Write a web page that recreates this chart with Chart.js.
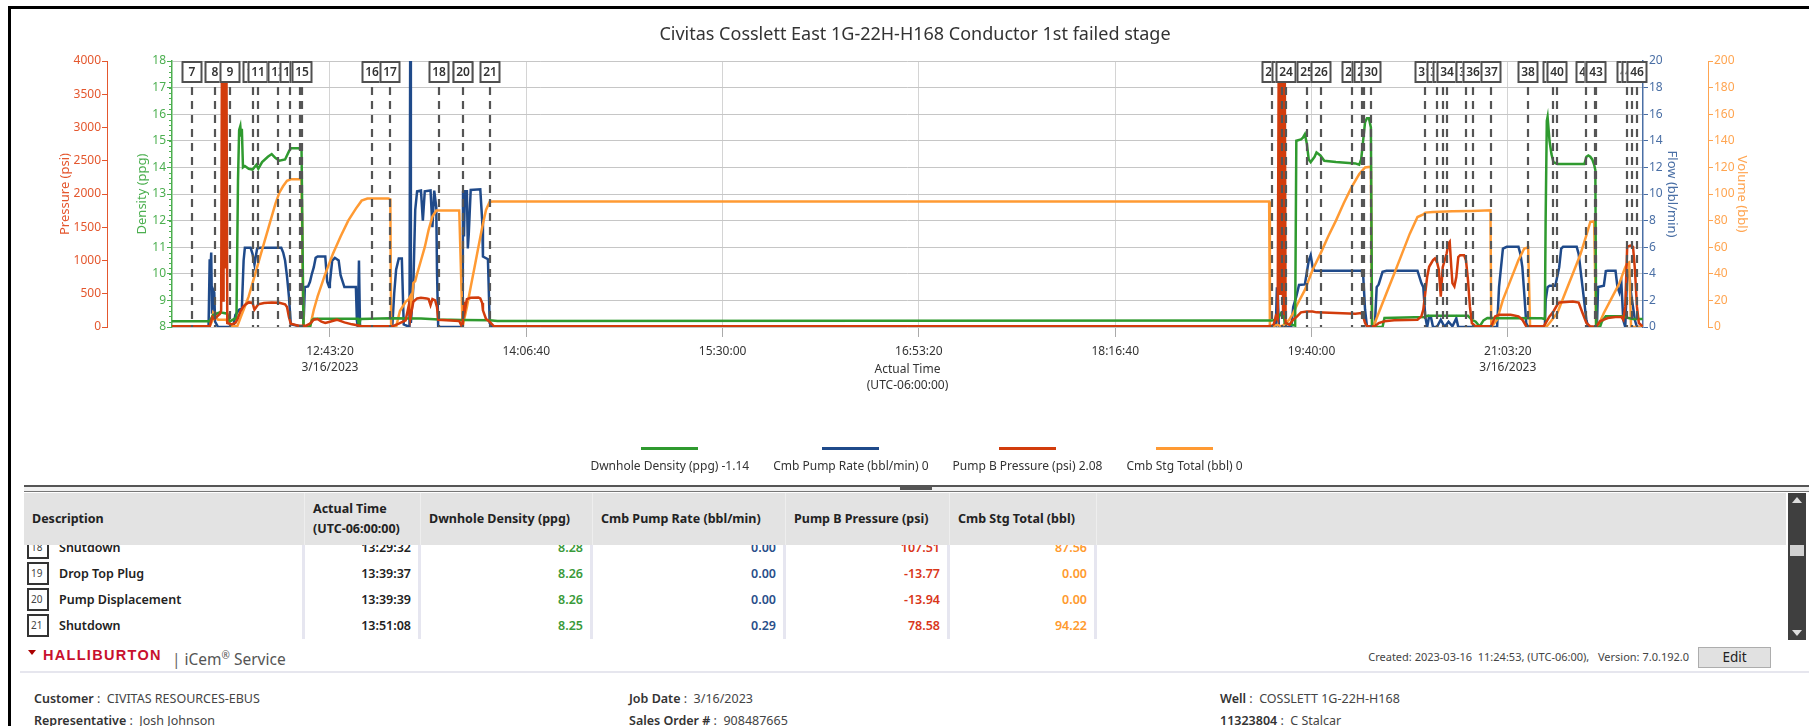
<!DOCTYPE html>
<html>
<head>
<meta charset="utf-8">
<script src="https://cdn.jsdelivr.net/npm/chart.js@4.4.1/dist/chart.umd.min.js"></script>
<style>
html,body{margin:0;padding:0;background:#fff;}
body{width:1809px;height:726px;overflow:hidden;position:relative;font-family:'Noto Sans','Open Sans',sans-serif;color:#222;}
.abs{position:absolute;}
#frameTop{left:8px;top:6px;width:1801px;height:3px;background:#000;}
#frameLeft{left:8px;top:6px;width:3px;height:720px;background:#000;}
#title{left:0;width:1830px;top:20px;text-align:center;font-size:18px;color:#333;line-height:26px;}
#chartWrap{left:0;top:0;width:1809px;height:400px;}
#legend{left:0;top:441px;width:1833px;display:flex;justify-content:center;gap:24px;}
.lg{display:flex;flex-direction:column;align-items:center;}
.lg .ln{width:57px;height:3px;margin-top:6px;}
.lg .tx{font-size:12px;color:#333;margin-top:8px;line-height:16px;white-space:nowrap;}
#splitter{left:24px;top:485px;width:1785px;height:7px;border-top:2px solid #555;border-bottom:1px solid #777;background:#f0f0f0;box-sizing:border-box;}
#grip{left:900px;top:485px;width:32px;height:5px;background:#555;}
#thead{left:24px;top:493px;width:1762px;height:52px;background:#e3e3e3;z-index:2;}
.hc{position:absolute;top:0;height:52px;font-weight:700;font-size:12.5px;color:#222;display:flex;align-items:center;box-sizing:border-box;padding-left:8px;line-height:20px;border-right:1px solid #eeeeee;}
#tbody{left:24px;top:545px;width:1762px;height:95px;overflow:hidden;}
#tinner{position:absolute;left:0;top:-10.5px;width:100%;}
.row{position:relative;height:26px;}
.c{position:absolute;top:0;height:26px;line-height:26px;font-size:12.5px;font-weight:600;text-align:right;padding-right:7px;box-sizing:border-box;border-right:3px solid #e6e6f0;}
.ico{position:absolute;left:3px;top:1.5px;width:22px;height:23px;border:2px solid #333;box-sizing:border-box;font-size:10px;line-height:19px;padding-left:2px;font-weight:400;color:#444;text-align:left;}
.desc{position:absolute;left:35px;top:0;line-height:26px;font-size:12.5px;font-weight:600;color:#222;}
#scroll{left:1788px;top:493px;width:18px;height:147px;background:#3f3f3f;}
#sup{left:1792px;top:497px;width:0;height:0;border-left:5px solid transparent;border-right:5px solid transparent;border-bottom:6px solid #ddd;}
#sdown{left:1792px;top:630px;width:0;height:0;border-left:5px solid transparent;border-right:5px solid transparent;border-top:6px solid #ddd;}
#sthumb{left:1790px;top:545px;width:14px;height:11px;background:#d0d0d0;}
#tri{left:28px;top:650px;width:0;height:0;border-left:4px solid transparent;border-right:4px solid transparent;border-top:5px solid #a00;}
#hal{left:43px;top:645px;line-height:20px;color:#c8102e;font-weight:900;font-size:14.5px;letter-spacing:1.3px;font-family:'Liberation Sans',Arial,sans-serif;white-space:nowrap;}
#brandRest{left:172px;top:644px;line-height:22px;white-space:nowrap;color:#555;font-size:15.5px;}
#created{right:120px;top:649px;font-size:11px;color:#444;line-height:16px;white-space:pre;}
#edit{left:1698px;top:647px;width:73px;height:21px;background:#e1e1e1;border:1px solid #adadad;box-sizing:border-box;text-align:center;font-size:13.5px;line-height:19px;color:#222;}
#footLine{left:20px;top:671px;width:1789px;height:2px;background:#e6e6ee;}
.info{font-size:12.5px;color:#444;line-height:19px;white-space:nowrap;}
.info b{font-weight:600;color:#333;}
</style>
</head>
<body>
<div id="chartWrap" class="abs"><canvas id="c" width="1809" height="400"></canvas></div>
<div id="frameTop" class="abs"></div>
<div id="frameLeft" class="abs"></div>
<div id="title" class="abs"></div>
<div id="legend" class="abs"></div>
<div id="splitter" class="abs"></div>
<div id="grip" class="abs"></div>
<div id="thead" class="abs"></div>
<div id="tbody" class="abs"><div id="tinner"></div></div>
<div id="scroll" class="abs"></div>
<div id="sup" class="abs"></div>
<div id="sdown" class="abs"></div>
<div id="sthumb" class="abs"></div>
<div id="tri" class="abs"></div>
<div id="hal" class="abs">HALLIBURTON</div>
<div id="brandRest" class="abs"><span style="color:#666">|</span> iCem<sup style="font-size:10px">&reg;</sup> Service</div>
<div id="created" class="abs">Created: 2023-03-16  11:24:53, (UTC-06:00),   Version: 7.0.192.0</div>
<div id="edit" class="abs">Edit</div>
<div id="footLine" class="abs"></div>
<div class="abs info" style="left:34px;top:689px;"><b>Customer</b> :&nbsp; CIVITAS RESOURCES-EBUS</div>
<div class="abs info" style="left:629px;top:689px;"><b>Job Date</b> :&nbsp; 3/16/2023</div>
<div class="abs info" style="left:1220px;top:689px;"><b>Well</b> :&nbsp; COSSLETT 1G-22H-H168</div>
<div class="abs info" style="left:34px;top:711px;"><b>Representative</b> :&nbsp; Josh Johnson</div>
<div class="abs info" style="left:629px;top:711px;"><b>Sales Order #</b> :&nbsp; 908487665</div>
<div class="abs info" style="left:1220px;top:711px;"><b>11323804</b> :&nbsp; C Stalcar</div>
<script>
// ---------------- DATA ----------------
const chartTitle = "Civitas Cosslett East 1G-22H-H168 Conductor 1st failed stage";
const axisStart = "11:36:16";
const axisEnd = "22:00:43";
const xTickTimes = ["12:43:20","14:06:40","15:30:00","16:53:20","18:16:40","19:40:00","21:03:20"];
const xTickLabels = [["12:43:20","3/16/2023"],["14:06:40"],["15:30:00"],["16:53:20"],["18:16:40"],["19:40:00"],["21:03:20","3/16/2023"]];
const pressureTicks = [0,500,1000,1500,2000,2500,3000,3500,4000];

const seriesNames = ["Dwnhole Density (ppg)","Cmb Pump Rate (bbl/min)","Pump B Pressure (psi)","Cmb Stg Total (bbl)"];
const legendValues = ["-1.14","0","2.08","0"];

const densityPoints = [
["11:36:11",8.22],["11:52:16",8.22],["11:53:44",8.45],["11:55:02",8.5],["11:56:39",8.55],["11:59:44",8.5],
["12:00:43",8.2],["12:03:38",8.35],["12:04:17",13.5],["12:04:46",15.4],["12:05:16",15.55],["12:05:35",15.2],
["12:05:55",15.45],["12:06:24",14.0],["12:07:12",14.05],["12:08:50",13.95],["12:10:27",13.92],["12:12:05",14.1],
["12:12:54",13.95],["12:14:31",14.2],["12:16:58",14.4],["12:18:35",14.5],["12:20:13",14.35],["12:21:50",14.25],
["12:24:16",14.3],["12:25:54",14.6],["12:26:42",14.72],["12:29:57",14.72],["12:31:15",14.68],["12:32:04",8.02],
["12:34:50",8.0],["12:35:39",8.25],["12:36:28",8.31],["12:55:09",8.31],["12:55:38",8.05],["12:56:17",8.3],
["13:08:57",8.33],["13:21:57",8.32],["13:29:32",8.28],["13:39:37",8.26],["13:51:08",8.25],["13:54:27",8.23],
["19:23:10",8.24],["19:25:38",8.3],["19:27:17",8.55],["19:28:07",8.58],["19:28:36",8.15],["19:33:03",8.05],
["19:33:33",15.0],["19:35:32",15.05],["19:36:21",15.12],["19:37:11",15.25],["19:38:00",14.9],["19:38:49",14.3],
["19:39:39",14.2],["19:41:18",14.4],["19:42:07",14.56],["19:43:46",14.45],["19:45:25",14.25],["19:50:22",14.2],
["19:58:36",14.15],["20:00:15",14.1],["20:01:05",14.3],["20:01:54",15.0],["20:02:44",15.7],["20:03:33",15.85],
["20:04:22",15.85],["20:05:12",15.5],["20:05:42",8.0],["20:10:09",8.0],["20:10:58",8.34],["20:28:17",8.38],
["20:29:06",8.42],["20:46:25",8.42],["20:48:04",8.27],["20:49:43",8.2],["20:51:22",8.02],["20:53:00",8.25],
["20:54:39",8.34],["21:17:44",8.33],["21:19:03",8.3],["21:19:23",12.0],["21:19:53",15.75],["21:20:13",15.9],
["21:21:02",15.0],["21:21:51",14.5],["21:22:41",14.2],["21:24:20",14.13],["21:35:52",14.13],["21:36:42",14.4],
["21:37:31",14.45],["21:38:20",14.4],["21:39:10",14.3],["21:39:59",14.1],["21:40:29",13.9],["21:40:49",8.0],
["21:42:28",8.0],["21:43:17",8.21],["21:44:56",8.4],["21:52:21",8.4],["21:54:00",8.35],["21:56:29",8.3],["22:00:36",8.3]
];

const ratePoints = [
["11:36:11",0],["11:51:47",0],["11:52:16",5.1],["11:52:36",4.2],["11:52:55",5.6],["11:53:15",1.0],["11:53:44",2.8],
["11:54:13",2.6],["11:54:33",0.4],["11:55:50",0],["12:02:20",0],["12:03:09",0.9],["12:04:46",1.3],["12:05:55",1.4],
["12:06:40",5.0],["12:07:12",5.95],["12:09:39",5.95],["12:10:27",5.5],["12:11:16",4.7],["12:12:24",5.9],["12:13:42",5.95],
["12:22:39",5.95],["12:23:28",5.6],["12:24:16",5.0],["12:25:05",3.8],["12:25:54",2.3],["12:26:42",0.2],["12:32:04",0],
["12:32:40",3.0],["12:34:01",3.05],["12:34:50",3.4],["12:35:39",4.0],["12:36:28",4.5],["12:37:15",5.2],["12:38:05",5.3],
["12:41:20",5.3],["12:42:09",3.4],["12:42:58",3.0],["12:43:17",3.3],["12:44:16",5.0],["12:45:24",5.2],["12:47:01",5.0],
["12:47:50",3.9],["12:49:27",3.0],["12:54:20",3.0],["12:54:45",0.5],["12:55:09",0],["12:55:38",5.0],["12:56:05",0],
["13:09:46",0],["13:10:35",2.5],["13:11:24",4.3],["13:12:32",5.15],["13:13:50",5.15],["13:14:38",0.2],["13:17:05",0],
["13:17:24",22],["13:17:40",0.3],["13:18:42",3.0],["13:19:31",8.8],["13:20:19",10.2],["13:21:57",10.26],["13:22:45",8.0],
["13:23:34",10.2],["13:26:01",10.26],["13:26:49",7.5],["13:27:35",10.26],["13:28:27",9.0],["13:28:46",4.2],["13:29:16",0],
["13:39:39",0],["13:39:49",10.2],["13:40:13",6.8],["13:40:38",10.2],["13:41:27",10.2],["13:41:51",5.9],["13:42:15",7.0],
["13:43:04",10.3],["13:47:08",10.35],["13:47:57",8.0],["13:48:16",5.3],["13:50:23",5.1],["13:51:08",0.29],["13:52:01",0],
["19:24:49",0],["19:25:18",2.9],["19:25:38",2.9],["19:26:08",0],["19:31:24",0],["19:32:14",1.5],["19:33:33",2.3],
["19:34:42",3.16],["19:37:11",3.2],["19:38:49",5.0],["19:39:39",5.4],["19:40:28",4.5],["19:41:18",4.23],["20:01:05",4.23],
["20:01:54",4.0],["20:02:44",1.3],["20:03:33",0],["20:06:51",0],["20:07:40",3.0],["20:08:30",3.2],["20:10:09",4.15],
["20:11:48",4.23],["20:24:59",4.23],["20:26:38",3.3],["20:27:27",3.0],["20:28:17",0.8],["20:29:06",0],["20:29:56",0.8],
["20:30:45",0.7],["20:31:35",0],["20:33:14",0],["20:34:52",0.55],["20:36:31",0],["20:38:10",0.4],["20:39:49",0.05],
["20:41:28",0.65],["20:42:18",0],["20:58:47",0],["20:59:36",3.0],["21:01:15",5.9],["21:02:54",6.03],["21:07:51",6.03],
["21:08:40",5.5],["21:09:30",4.5],["21:10:19",2.5],["21:11:08",0.3],["21:11:58",0],["21:19:03",0],["21:19:23",2.0],
["21:20:13",3.0],["21:21:02",3.1],["21:23:30",3.1],["21:25:09",4.5],["21:25:59",5.9],["21:26:48",6.03],["21:32:34",6.03],
["21:33:24",5.5],["21:35:03",3.0],["21:36:42",0.5],["21:37:31",0],["21:41:09",0],["21:41:38",3.0],["21:44:06",3.1],
["21:44:56",4.2],["21:45:46",4.23],["21:49:03",4.23],["21:49:53",3.0],["21:50:42",2.6],["21:51:32",3.3],["21:52:21",0.5],
["21:53:11",0],["21:54:00",3.8],["21:54:50",4.2],["21:55:39",2.5],["21:56:29",1.5],["21:57:18",0.5],["21:58:08",0],["22:00:36",0]
];

const pressurePoints = [
["11:36:11",10],["11:52:16",10],["11:53:25",150],["11:54:13",120],["11:56:39",200],["11:57:08",250],["11:57:30",4500],
["11:57:50",4500],["11:58:00",400],["11:58:10",4500],["11:58:40",4500],["11:58:55",900],["11:59:05",4500],["11:59:20",4500],
["11:59:44",60],["12:01:32",40],["12:03:09",60],["12:03:58",110],["12:05:16",230],["12:06:24",300],["12:07:12",330],
["12:08:50",370],["12:10:27",365],["12:11:16",260],["12:12:05",300],["12:12:54",340],["12:15:20",360],["12:18:35",370],
["12:21:50",365],["12:24:16",340],["12:25:05",300],["12:25:54",150],["12:26:42",50],["12:29:57",20],["12:33:13",20],
["12:34:50",50],["12:36:28",110],["12:38:05",120],["12:39:43",80],["12:41:20",60],["12:43:17",80],["12:46:13",110],
["12:49:27",70],["12:52:42",40],["12:54:20",30],["12:56:46",10],["13:09:46",10],["13:12:32",50],["13:15:27",100],
["13:16:45",320],["13:17:24",120],["13:18:42",380],["13:20:19",430],["13:21:57",440],["13:24:23",430],["13:25:12",420],
["13:26:01",330],["13:26:49",420],["13:27:58",400],["13:28:46",300],["13:29:16",110],["13:29:32",107.51],["13:38:12",90],
["13:39:37",-13.77],["13:39:39",-13.94],["13:39:49",200],["13:40:13",380],["13:40:38",250],["13:41:27",420],["13:43:04",440],
["13:46:19",445],["13:47:08",430],["13:47:57",360],["13:48:16",250],["13:49:34",120],["13:51:08",78.58],["13:52:50",15],
["13:54:27",10],["19:21:31",10],["19:23:10",20],["19:23:59",40],["19:24:49",160],["19:25:38",110],["19:26:08",4500],
["19:26:28",4500],["19:26:45",500],["19:26:57",4500],["19:27:37",4500],["19:27:55",200],["19:28:07",4500],["19:28:36",4500],
["19:29:00",60],["19:30:35",35],["19:32:14",110],["19:33:53",160],["19:35:32",220],["19:38:00",234],["19:40:28",234],
["19:42:07",220],["19:58:36",200],["20:01:05",210],["20:01:54",160],["20:02:44",60],["20:03:33",10],["20:06:51",10],
["20:08:30",60],["20:10:58",85],["20:15:06",100],["20:24:59",110],["20:26:38",160],["20:27:27",260],["20:28:17",510],
["20:29:06",757],["20:29:56",906],["20:31:35",1006],["20:32:24",1030],["20:33:14",980],["20:34:03",860],["20:34:52",458],
["20:35:42",900],["20:37:21",1105],["20:38:10",1255],["20:38:40",1280],["20:39:20",900],["20:39:49",660],["20:40:39",610],
["20:41:28",750],["20:42:18",1050],["20:43:07",1080],["20:44:46",1080],["20:45:35",1000],["20:46:25",710],["20:47:14",310],
["20:48:04",60],["20:49:43",10],["20:56:18",10],["20:57:57",160],["20:59:36",184],["21:04:33",184],["21:07:51",160],
["21:09:30",110],["21:11:08",10],["21:18:34",10],["21:19:23",60],["21:21:02",160],["21:22:41",234],["21:24:20",334],
["21:25:09",368],["21:30:55",383],["21:33:24",368],["21:35:03",210],["21:36:42",60],["21:38:20",10],["21:40:49",0],
["21:42:28",85],["21:44:06",110],["21:45:46",135],["21:49:03",150],["21:51:32",150],["21:52:21",110],["21:53:11",310],
["21:54:00",1205],["21:55:20",1225],["21:56:29",1205],["21:57:18",860],["21:58:08",310],["21:58:57",60],["22:00:36",10]
];

const volumePoints = [
["11:36:11",0.5],["11:52:16",0.5],["11:53:25",5],["11:53:44",10.5],["11:54:42",8],["11:55:50",5.5],["11:59:05",5.5],
["12:00:43",3],["12:01:32",0.5],["12:03:58",0.5],["12:05:35",8],["12:07:12",15.4],["12:08:50",23],["12:10:27",33],
["12:12:05",43],["12:13:42",53],["12:15:20",63],["12:16:58",73],["12:18:35",83],["12:20:13",93],["12:21:50",101],
["12:23:28",106],["12:25:05",110],["12:26:42",111],["12:31:15",111],["12:32:04",0],["12:34:50",0],["12:36:28",13],
["12:38:05",23],["12:41:20",40],["12:44:35",55],["12:47:50",68],["12:51:05",80],["12:54:20",89],["12:56:46",95],
["12:59:12",96.6],["13:08:08",96.6],["13:08:57",96],["13:09:17",0],["13:11:24",0],["13:13:01",12],["13:15:27",19],
["13:16:45",21],["13:17:24",23],["13:17:53",13],["13:18:42",33],["13:19:31",34.5],["13:20:19",40],["13:21:57",50],
["13:23:34",60],["13:25:12",73],["13:26:49",83],["13:28:27",87.6],["13:29:32",87.56],["13:38:12",87.6],["13:39:37",0],
["13:39:39",0],["13:41:27",15],["13:43:04",30],["13:44:42",45],["13:46:19",60],["13:47:57",75],["13:49:34",88],
["13:51:08",94.22],["13:52:50",94.4],["19:22:01",94.4],["19:22:20",0],["19:25:38",1.7],["19:26:57",0.5],["19:28:07",1.5],
["19:30:35",5.5],["19:32:14",10.5],["19:33:53",16.7],["19:37:11",27.9],["19:40:28",43],["19:43:46",55],["19:47:04",68],
["19:50:22",80],["19:53:40",93],["19:56:58",105],["20:00:15",115],["20:02:44",120],["20:05:12",120.5],["20:05:42",0],
["20:06:51",3],["20:08:30",10.5],["20:11:48",25.4],["20:15:06",40],["20:18:23",55],["20:21:41",70],["20:24:59",82.7],
["20:27:27",84.7],["20:28:17",86],["20:31:35",86.4],["20:39:49",87],["20:48:04",87.2],["20:55:58",87.7],["20:56:18",0],
["20:58:47",5.5],["21:01:15",20.4],["21:04:33",35.4],["21:07:51",50.3],["21:10:19",59],["21:11:58",59.8],["21:12:47",0],
["21:19:53",0.5],["21:21:02",3],["21:22:41",6.7],["21:24:20",10.5],["21:27:38",25.4],["21:30:55",40],["21:34:13",55],
["21:36:42",69],["21:38:20",79],["21:39:59",79.7],["21:40:49",0],["21:41:38",0.5],["21:44:06",10.5],["21:47:24",21.7],
["21:50:42",32.9],["21:53:11",45],["21:54:00",47.8],["21:54:50",48.6],["21:55:39",0],["22:00:36",0]
];

const eventNumbers = [7,8,9,10,11,12,13,14,15,16,17,18,19,20,21,22,23,24,25,26,27,28,29,30,31,32,33,34,35,36,37,38,39,40,41,42,43,44,45,46];
const eventTimes = ["11:44:48","11:54:33","12:00:43","12:10:29","12:12:54","12:21:21","12:26:14","12:30:36","12:31:34","13:01:10","13:08:58","13:29:32","13:39:37","13:39:39","13:51:08",
"19:23:09","19:27:37","19:29:16","19:38:00","19:44:07","19:57:17","20:01:25","20:02:15","20:05:13","20:28:16","20:33:14","20:35:42","20:37:42","20:45:35","20:48:34","20:56:20","21:12:00","21:22:42","21:24:21","21:36:42","21:40:21","21:40:49","21:54:01","21:55:58","21:58:08"];

const tableHeaders = [["Description"],["Actual Time","(UTC-06:00:00)"],["Dwnhole Density (ppg)"],["Cmb Pump Rate (bbl/min)"],["Pump B Pressure (psi)"],["Cmb Stg Total (bbl)"]];
const tableEventNos = [18,19,20,21];
const tableDescriptions = ["Shutdown","Drop Top Plug","Pump Displacement","Shutdown"];
const tableTimes = ["13:29:32","13:39:37","13:39:39","13:51:08"];
const tableDensity = ["8.28","8.26","8.26","8.25"];
const tableRate = ["0.00","0.00","0.00","0.29"];
const tablePressure = ["107.51","-13.77","-13.94","78.58"];
const tableTotal = ["87.56","0.00","0.00","94.22"];

// ---------------- STYLE ----------------
const SERIES_COL = ["#2f9a2f","#1f4a8a","#d23c0c","#ff9a33"];
const PCOL = "#e4572e", DCOL = "#4caf50", FCOL = "#4a6fa5", VCOL = "#ffa551";

const toSec = s => { const p = s.split(':').map(Number); return p[0]*3600 + p[1]*60 + (p[2]||0); };
const toXY = arr => arr.map(([t,v]) => ({x: toSec(t), y: v}));

document.getElementById('title').textContent = chartTitle;

// legend
const lg = document.getElementById('legend');
seriesNames.forEach((n,i) => {
  const d = document.createElement('div'); d.className = 'lg';
  d.innerHTML = '<div class="ln" style="background:'+SERIES_COL[i]+'"></div><div class="tx">'+n+' '+legendValues[i]+'</div>';
  lg.appendChild(d);
});

// table
const colX = [0,281,397,569,762,926,1073];
const colW = [281,116,172,193,164,147,689];
const th = document.getElementById('thead');
for (let i=0;i<7;i++){
  const c = document.createElement('div'); c.className='hc';
  c.style.left = colX[i]+'px'; c.style.width = colW[i]+'px';
  if (i<6) c.innerHTML = tableHeaders[i].join('<br>');
  if (i===6) c.style.borderRight='none';
  th.appendChild(c);
}
const tin = document.getElementById('tinner');
const valCols = [tableTimes, tableDensity, tableRate, tablePressure, tableTotal];
const valColors = ["#222","#3a9a3a","#2a4f8a","#d9361a","#ff9a2e"];
tableEventNos.forEach((n,r) => {
  const row = document.createElement('div'); row.className='row';
  let h = '<div class="c" style="left:0;width:281px;text-align:left;"><div class="ico">'+n+'</div><div class="desc">'+tableDescriptions[r]+'</div></div>';
  valCols.forEach((col,k) => {
    h += '<div class="c" style="left:'+colX[k+1]+'px;width:'+colW[k+1]+'px;color:'+valColors[k]+'">'+col[r]+'</div>';
  });
  row.innerHTML = h;
  tin.appendChild(row);
});

// ---------------- CHART ----------------
const eventMarkers = {
  id: 'eventMarkers',
  afterDatasetsDraw(chart) {
    const {ctx, chartArea, scales} = chart;
    const xs = scales.x;
    ctx.save();
    ctx.strokeStyle = '#555';
    ctx.lineWidth = 2.2;
    ctx.setLineDash([8,6]);
    ctx.beginPath();
    eventTimes.forEach(t => {
      const px = Math.round(xs.getPixelForValue(toSec(t)));
      ctx.moveTo(px, chartArea.top + 26);
      ctx.lineTo(px, chartArea.bottom);
    });
    ctx.stroke();
    ctx.setLineDash([]);
    ctx.font = '600 12px "Noto Sans", sans-serif';
    ctx.textAlign = 'center';
    ctx.textBaseline = 'middle';
    eventNumbers.forEach((n,i) => {
      const px = Math.round(xs.getPixelForValue(toSec(eventTimes[i])));
      const w = 21, h = 22, top = chartArea.top;
      ctx.fillStyle = '#fff';
      ctx.fillRect(px - w/2, top, w, h);
      ctx.lineWidth = 2;
      ctx.strokeStyle = '#505050';
      ctx.strokeRect(px - w/2 + 1, top + 1, w - 2, h - 2);
      ctx.fillStyle = '#333';
      ctx.fillText(String(n), px, top + h/2 + 1);
    });
    ctx.restore();
  }
};
const densityMinorTicks = {
  id: 'densityMinorTicks',
  afterDraw(chart) {
    const s = chart.scales.yD, ctx = chart.ctx;
    ctx.save(); ctx.strokeStyle = DCOL; ctx.lineWidth = 1; ctx.beginPath();
    for (let k = 0; k <= (s.max - s.min) * 5; k++) {
      const y = Math.round(s.getPixelForValue(s.min + k*0.2)) + 0.5;
      ctx.moveTo(s.right - 3, y); ctx.lineTo(s.right, y);
    }
    ctx.stroke(); ctx.restore();
  }
};

const baseFont = {family: "'Noto Sans', sans-serif", size: 12};
const mk = (label, pts, axis, col, order) => ({
  label, data: toXY(pts), yAxisID: axis, borderColor: col, backgroundColor: col,
  borderWidth: 2.5, pointRadius: 0, tension: 0, fill: false, order
});

new Chart(document.getElementById('c'), {
  type: 'line',
  data: { datasets: [
    mk(seriesNames[0], densityPoints, 'yD', SERIES_COL[0], 2),
    mk(seriesNames[1], ratePoints, 'yF', SERIES_COL[1], 4),
    mk(seriesNames[2], pressurePoints, 'yP', SERIES_COL[2], 1),
    mk(seriesNames[3], volumePoints, 'yV', SERIES_COL[3], 3)
  ]},
  options: {
    responsive: false, animation: false, devicePixelRatio: 1,
    layout: { padding: { left: 57, right: 39, top: 61, bottom: 6 } },
    plugins: { legend: {display: false}, tooltip: {enabled: false} },
    scales: {
      x: {
        type: 'linear', min: toSec(axisStart), max: toSec(axisEnd),
        afterBuildTicks: s => { s.ticks = xTickTimes.map(t => ({value: toSec(t)})); },
        ticks: { autoSkip: false, maxRotation: 0, color: '#333', padding: 6,
                 font: {...baseFont, lineHeight: 1.35},
                 callback: (v, i) => xTickLabels[i] },
        grid: { color: '#d4d4d4', lineWidth: 1, tickLength: 10, tickColor: '#aaa' },
        border: { display: false },
        title: { display: true, text: ['Actual Time','(UTC-06:00:00)'], color: '#333',
                 font: {...baseFont, lineHeight: 1.35}, padding: {top: 0, bottom: 0} },
        afterFit: s => { s.height = 67; }
      },
      yD: {
        position: 'left', min: 8, max: 18,
        ticks: { stepSize: 1, color: DCOL, font: baseFont, padding: 1 },
        grid: { color: '#c6c6c6', lineWidth: 1, tickLength: 5, tickColor: DCOL },
        border: { color: DCOL, width: 1.5 },
        title: { display: true, text: 'Density (ppg)', color: DCOL, font: {...baseFont, size: 13}, padding: {top: 27, bottom: 0} },
        afterFit: s => { s.width = 65; }
      },
      yP: {
        position: 'left', min: 0, max: 4000,
        afterBuildTicks: s => { s.ticks = pressureTicks.map(v => ({value: v})); },
        ticks: { color: PCOL, font: baseFont, padding: 1, callback: v => String(v) },
        grid: { drawOnChartArea: false, tickLength: 5, tickColor: PCOL },
        border: { color: PCOL, width: 1 },
        title: { display: true, text: 'Pressure (psi)', color: PCOL, font: {...baseFont, size: 13}, padding: {top: 0, bottom: 0} },
        afterFit: s => { s.width = 50; }
      },
      yF: {
        position: 'right', min: 0, max: 20,
        ticks: { stepSize: 2, color: FCOL, font: baseFont, padding: 1 },
        grid: { drawOnChartArea: false, tickLength: 5, tickColor: FCOL },
        border: { color: FCOL, width: 1.5 },
        title: { display: true, text: 'Flow (bbl/min)', color: FCOL, font: {...baseFont, size: 13}, padding: {top: 28, bottom: 0} },
        afterFit: s => { s.width = 65; }
      },
      yV: {
        position: 'right', min: 0, max: 200,
        ticks: { stepSize: 20, color: VCOL, font: baseFont, padding: 1 },
        grid: { drawOnChartArea: false, tickLength: 5, tickColor: VCOL },
        border: { color: VCOL, width: 1 },
        title: { display: true, text: 'Volume (bbl)', color: VCOL, font: {...baseFont, size: 13}, padding: {top: 20, bottom: 0} },
        afterFit: s => { s.width = 62; }
      }
    }
  },
  plugins: [eventMarkers, densityMinorTicks]
});
</script>
</body>
</html>
